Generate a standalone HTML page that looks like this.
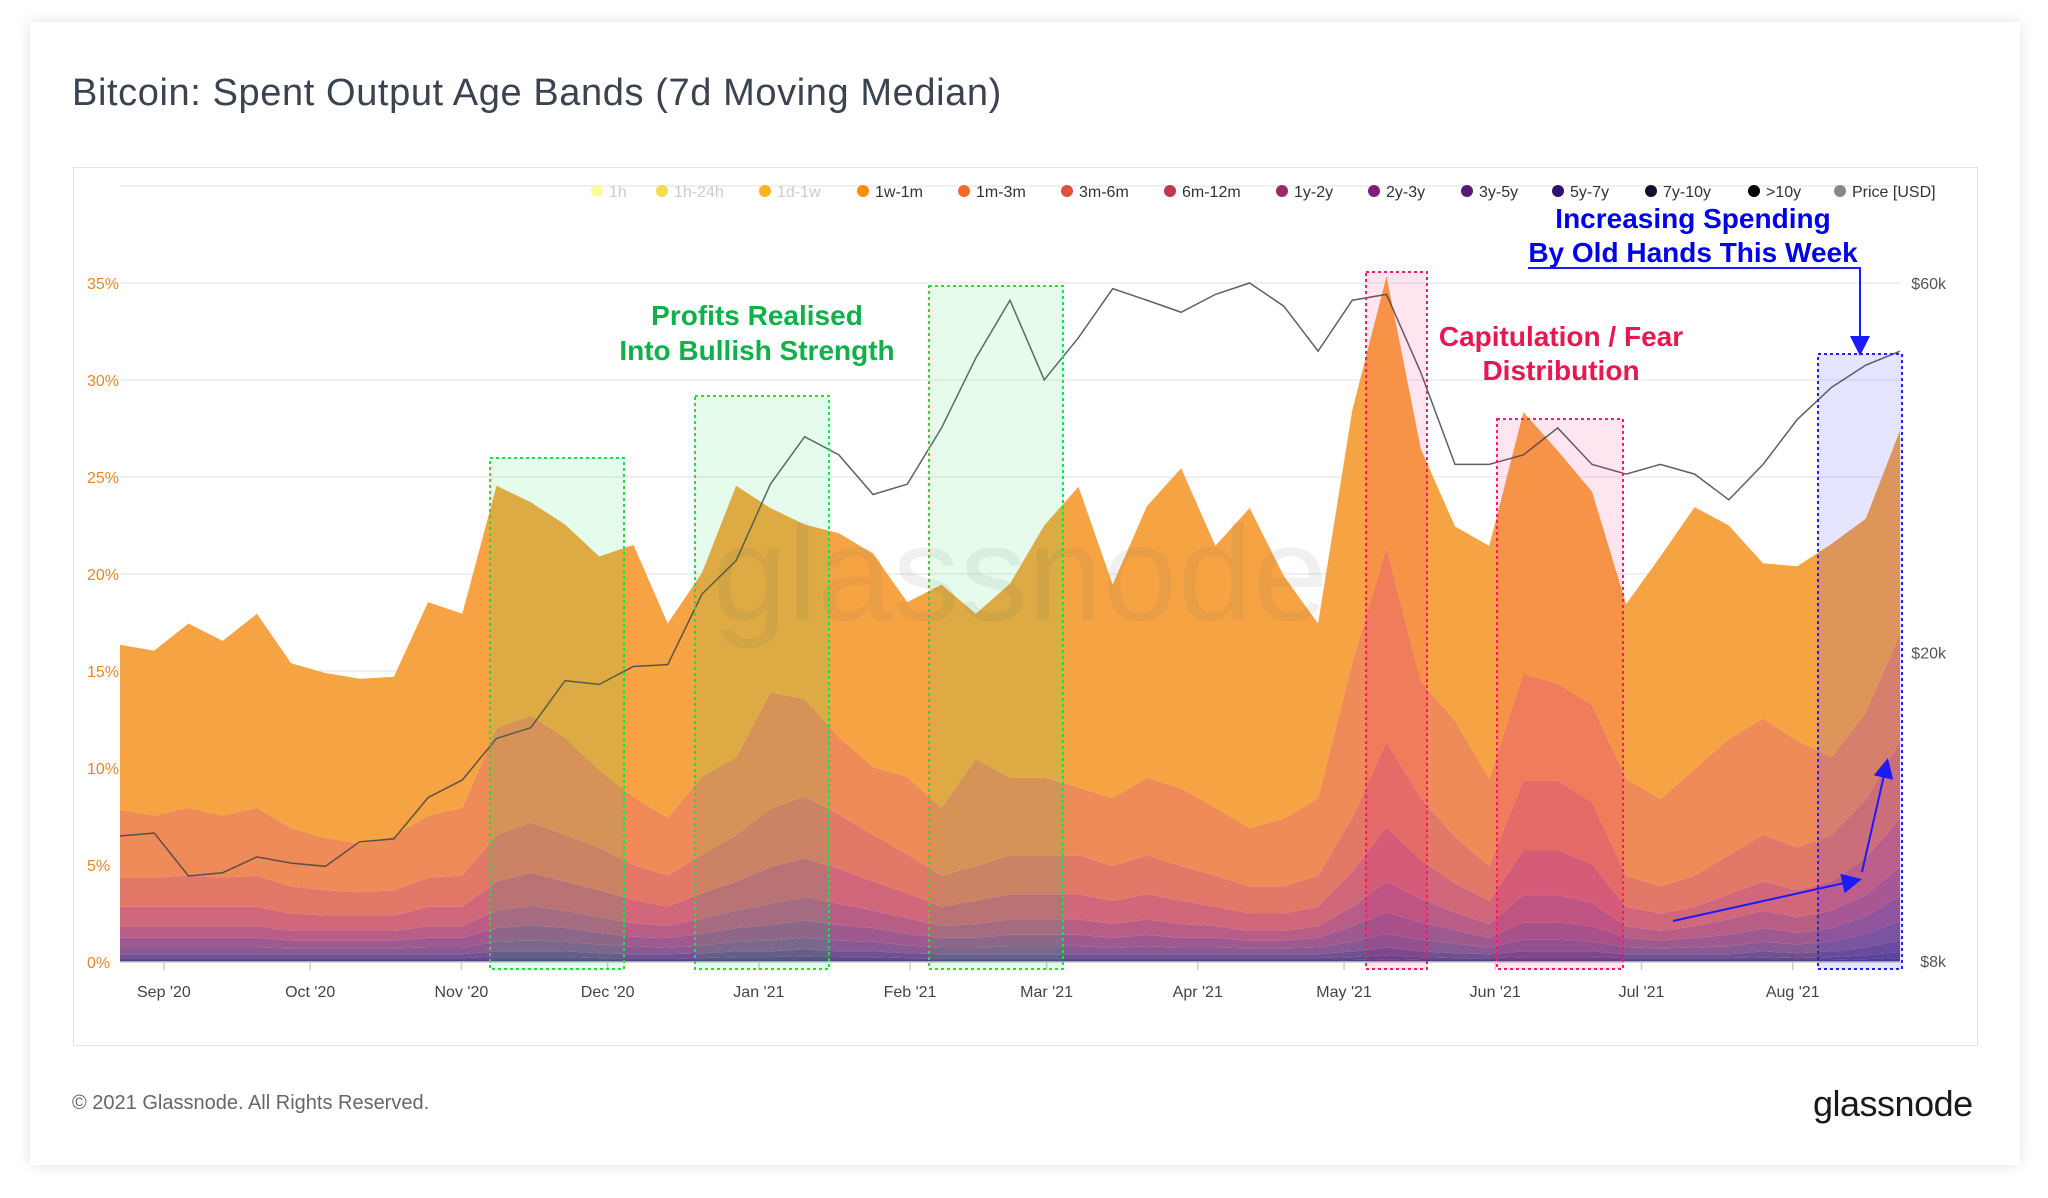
<!DOCTYPE html>
<html><head><meta charset="utf-8">
<style>
html,body{margin:0;padding:0;background:#fff;}
body{width:2048px;height:1198px;position:relative;overflow:hidden;font-family:"Liberation Sans",sans-serif;}
#card{position:absolute;left:30px;top:22px;width:1990px;height:1143px;background:#fff;box-shadow:0 0 14px rgba(0,0,0,0.12);}
#title{position:absolute;left:72px;top:72px;font-size:38px;color:#3b4250;letter-spacing:0.6px;}
#panel{position:absolute;left:73px;top:167px;width:1903px;height:877px;border:1px solid #e3e3e3;}
#footer{position:absolute;left:72px;top:1092px;font-size:20px;color:#666;}
#logo{position:absolute;left:1813px;top:1083px;font-size:36px;color:#1a1a1a;letter-spacing:-0.5px;}
svg{position:absolute;left:0;top:0;}
.ann{font-family:"Liberation Sans Narrow","Liberation Sans",sans-serif;font-weight:bold;font-size:28px;text-anchor:middle;}
</style></head>
<body>
<div id="card"></div>
<div id="title">Bitcoin: Spent Output Age Bands (7d Moving Median)</div>
<div id="panel"></div>
<div id="footer">© 2021 Glassnode. All Rights Reserved.</div>
<div id="logo">glassnode</div>
<svg id="chart" width="2048" height="1198"></svg>
<script>
const weeks = 53;
const s1w1m = [8.5,8.5,9.5,9,10,8.5,8.5,8.5,8.2,11,10,12.5,11,11,11,13,10,10.5,14,9.5,9,10.5,11,9,11.5,7.5,10,13,15.5,11,14,16.5,13.5,16.5,12.5,9,13,14,12,10,12,13.5,12,11,9,12.5,13.5,11,8,9,11,10,10.5];
const s1m3m = [3.5,3.2,3.5,3.2,3.5,3,2.7,2.5,2.8,3.2,3.5,5.5,5.5,5,4,3.5,3,4,4,6,5,4,3.5,4,3.5,5.5,4,4,3.5,3.5,4,4,3.5,3,3.5,4,8,10,6,6,4.5,5.5,5,5,5,4.5,5.5,6,6,5.5,4,4.5,5.5];
const s3m6m = [1.5,1.5,1.6,1.5,1.6,1.4,1.3,1.2,1.3,1.5,1.6,2.4,2.6,2.4,2.2,1.8,1.6,2,2.4,3,3.2,2.8,2.4,2,1.6,1.8,2,2,2,1.8,2,1.8,1.6,1.4,1.4,1.6,2.8,4.4,3.2,2.4,1.8,3.6,3.6,3.2,1.6,1.4,1.6,2,2.4,2.2,2.4,3,4];
const s6m12m = [1,1,1,1,1,0.9,0.8,0.8,0.8,1,1,1.5,1.7,1.5,1.4,1.2,1,1.3,1.5,1.9,2,1.8,1.5,1.3,1,1.2,1.3,1.3,1.3,1.2,1.3,1.2,1,0.9,0.9,1,1.8,2.8,2,1.5,1.2,2.3,2.3,2,1,0.9,1,1.3,1.5,1.4,1.5,1.9,2.5];
const s1y2y = [0.6,0.6,0.6,0.6,0.6,0.5,0.5,0.5,0.5,0.6,0.6,0.9,1,0.9,0.8,0.7,0.6,0.8,0.9,1.1,1.2,1.1,0.9,0.8,0.6,0.7,0.8,0.8,0.8,0.7,0.8,0.7,0.6,0.5,0.5,0.6,1,1.6,1.2,0.9,0.7,1.4,1.4,1.2,0.6,0.5,0.6,0.8,0.9,0.8,0.9,1.1,1.5];
const s2y3y = [0.5,0.5,0.5,0.5,0.5,0.4,0.4,0.4,0.4,0.5,0.5,0.7,0.8,0.7,0.6,0.5,0.5,0.6,0.7,0.8,0.9,0.8,0.7,0.6,0.5,0.5,0.6,0.6,0.6,0.5,0.6,0.5,0.5,0.4,0.4,0.5,0.8,1.1,0.9,0.7,0.5,0.9,0.9,0.8,0.5,0.4,0.5,0.6,0.7,0.6,0.7,0.9,1.3];
const s3y5y = [0.35,0.35,0.35,0.35,0.35,0.3,0.3,0.3,0.3,0.35,0.35,0.5,0.55,0.5,0.45,0.4,0.35,0.4,0.5,0.55,0.6,0.55,0.5,0.4,0.35,0.35,0.4,0.4,0.4,0.35,0.4,0.35,0.35,0.3,0.3,0.35,0.5,0.7,0.6,0.5,0.35,0.6,0.6,0.5,0.35,0.3,0.35,0.4,0.5,0.45,0.5,0.7,1];
const s5y7y = [0.2,0.2,0.2,0.2,0.2,0.2,0.2,0.2,0.2,0.2,0.2,0.3,0.3,0.3,0.25,0.2,0.2,0.25,0.3,0.3,0.35,0.3,0.3,0.25,0.2,0.2,0.2,0.2,0.2,0.2,0.2,0.2,0.2,0.2,0.2,0.2,0.3,0.4,0.3,0.25,0.2,0.3,0.3,0.3,0.2,0.2,0.2,0.2,0.3,0.25,0.3,0.4,0.6];
const s7y10y = [0.1,0.1,0.1,0.1,0.1,0.1,0.1,0.1,0.1,0.1,0.1,0.15,0.15,0.15,0.1,0.1,0.1,0.1,0.15,0.15,0.2,0.15,0.15,0.1,0.1,0.1,0.1,0.1,0.1,0.1,0.1,0.1,0.1,0.1,0.1,0.1,0.15,0.2,0.15,0.1,0.1,0.15,0.15,0.15,0.1,0.1,0.1,0.1,0.15,0.1,0.15,0.2,0.3];
const s10y = [0.1,0.1,0.1,0.1,0.1,0.1,0.1,0.1,0.1,0.1,0.1,0.1,0.1,0.1,0.1,0.1,0.1,0.1,0.1,0.1,0.1,0.1,0.1,0.1,0.1,0.1,0.1,0.1,0.1,0.1,0.1,0.1,0.1,0.1,0.1,0.1,0.1,0.15,0.1,0.1,0.1,0.1,0.1,0.1,0.1,0.1,0.1,0.1,0.1,0.1,0.1,0.15,0.2];
const price = [11.6,11.7,10.3,10.4,10.9,10.7,10.6,11.4,11.5,13.0,13.7,15.5,16,18.4,18.2,19.2,19.3,23.8,26.3,33,38,36,32,33,39,48,57,45,51,59,57,55,58,60,56,49,57,58,46,35,35,36,39,35,34,35,34,31.5,35,40,44,47,49];
const yTicks = [0,5,10,15,20,25,30,35];
const priceTicks = [8,20,60];
const monthLabels = ["Sep '20","Oct '20","Nov '20","Dec '20","Jan '21","Feb '21","Mar '21","Apr '21","May '21","Jun '21","Jul '21","Aug '21"];
const monthDays = [9,39,70,100,131,162,190,221,251,282,312,343];
const legendNames = ["1h","1h-24h","1d-1w","1w-1m","1m-3m","3m-6m","6m-12m","1y-2y","2y-3y","3y-5y","5y-7y","7y-10y",">10y","Price [USD]"];

const NS = "http://www.w3.org/2000/svg";
const svg = document.getElementById('chart');
const X0=120, X1=1900, Y0=962;
const xW = i => X0 + i*(X1-X0)/(weeks-1);
const xD = d => X0 + d*(X1-X0)/365;
const yP = v => Y0 - v*19.4;
const yPrice = p => 961 - 336.5*Math.log(p/8);
function mk(tag, attrs){const e=document.createElementNS(NS,tag);for(const k in attrs)e.setAttribute(k,attrs[k]);svg.appendChild(e);return e;}

for(const t of [...yTicks,40]){
  const g=mk('line',{x1:X0,x2:X1,y1:yP(t),y2:yP(t),stroke:'#ececec','stroke-width':1.5});
  
  
}
for(const t of yTicks){
  const tx=mk('text',{x:87,y:yP(t)+6,'font-size':16,fill:'#e0892c'});
  tx.textContent=t+'%';
  
  
}
for(const p of priceTicks){
  const tx=mk('text',{x:1946,y:yPrice(p)+6,'font-size':16,fill:'#555','text-anchor':'end'});
  tx.textContent='$'+p+'k';
  
  
}

const series=[s10y,s7y10y,s5y7y,s3y5y,s2y3y,s1y2y,s6m12m,s3m6m,s1m3m,s1w1m];
const names=['gt10y','7y-10y','5y-7y','3y-5y','2y-3y','1y-2y','6m-12m','3m-6m','1m-3m','1w-1m'];
const colors=['#54408a','#60478e','#71508f','#875a93','#9e5a8e','#b85e86','#d0677a','#e27868','#ee8b58','#f6a443'];
let base=new Array(weeks).fill(0);
series.forEach((s,k)=>{
  const top=base.map((b,i)=>b+s[i]);
  let d='M'+xW(0)+','+yP(top[0]);
  for(let i=1;i<weeks;i++) d+='L'+xW(i)+','+yP(top[i]);
  for(let i=weeks-1;i>=0;i--) d+='L'+xW(i)+','+yP(base[i]);
  d+='Z';
  const p=mk('path',{d:d,fill:colors[k]});
  
  
  base=top;
});
const wm=mk('text',{x:1020,y:620,'font-size':135,fill:'rgba(120,110,100,0.10)','text-anchor':'middle'});
wm.textContent='glassnode';



let pd='';
price.forEach((v,i)=>{pd+=(i?'L':'M')+xW(i)+','+yPrice(v);});
const pl=mk('path',{d:pd,fill:'none',stroke:'#444','stroke-width':1.5,'stroke-opacity':0.85});



const ax=mk('line',{x1:X0,x2:X1,y1:Y0,y2:Y0,stroke:'#ccc','stroke-width':1.5});


monthDays.forEach((d,i)=>{
  const tk=mk('line',{x1:xD(d),x2:xD(d),y1:Y0,y2:Y0+8,stroke:'#ccc','stroke-width':1.5});
  
  
  const tx=mk('text',{x:xD(d),y:997,'font-size':16,fill:'#444','text-anchor':'middle'});
  tx.textContent=monthLabels[i];
  
  
});

const boxes=[[490,624,458,'g'],[695,829,396,'g'],[929,1063,286,'g'],[1366,1427,272,'r'],[1497,1623,419,'r'],[1818,1902,354,'b']];
const bf={g:'rgba(0,230,80,0.1)',r:'rgba(255,0,110,0.1)',b:'rgba(40,40,255,0.12)'};
const bs={g:'#22dd44',r:'#ff1a66',b:'#2222ff'};
boxes.forEach(b=>{
  const r=mk('rect',{x:b[0],y:b[2],width:b[1]-b[0],height:969-b[2],fill:bf[b[3]],stroke:bs[b[3]],'stroke-width':2,'stroke-dasharray':'3,3'});
  
  
});

function ann(x,y,t,c,name){const e=mk('text',{x:x,y:y,fill:c,class:'ann'});e.textContent=t;
  
  }
ann(757,325,'Profits Realised','#10b04a','annotation-profits');
ann(757,360,'Into Bullish Strength','#10b04a','annotation-profits');
ann(1561,346,'Capitulation / Fear','#e8174f','annotation-capitulation');
ann(1561,380,'Distribution','#e8174f','annotation-capitulation');
ann(1693,228,'Increasing Spending','#0000ee','annotation-old-hands');
ann(1693,262,'By Old Hands This Week','#0000ee','annotation-old-hands');
const defs=mk('defs',{});
defs.innerHTML='<marker id="ah" markerWidth="10" markerHeight="10" refX="8" refY="5" orient="auto"><path d="M0,0 L10,5 L0,10 Z" fill="#1a1aff"/></marker>';
const l1=mk('path',{d:'M1528,268 L1860,268 L1860,352',fill:'none',stroke:'#1a1aff','stroke-width':2,'marker-end':'url(#ah)'});


const l2=mk('line',{x1:1673,y1:921,x2:1858,y2:880,stroke:'#1a1aff','stroke-width':2,'marker-end':'url(#ah)'});


const l3=mk('line',{x1:1862,y1:872,x2:1887,y2:762,stroke:'#1a1aff','stroke-width':2,'marker-end':'url(#ah)'});



const lx=[597,662,765,863,964,1067,1170,1282,1374,1467,1558,1651,1754,1840];
const lc=['#fdfa9c','#f5dc4d','#fbb41c','#fb8c0c','#f26a2a','#de523b','#c23653','#9d2a64','#7c2175','#581878','#32126b','#15102f','#000','#888'];
legendNames.forEach((n,i)=>{
  const c=mk('circle',{cx:lx[i],cy:191,r:6,fill:lc[i]});
  
  
  const t=mk('text',{x:lx[i]+12,y:197,'font-size':16,fill:i<3?'#ccc':'#333'});
  t.textContent=n;
  
  
});
</script>
</body></html>
